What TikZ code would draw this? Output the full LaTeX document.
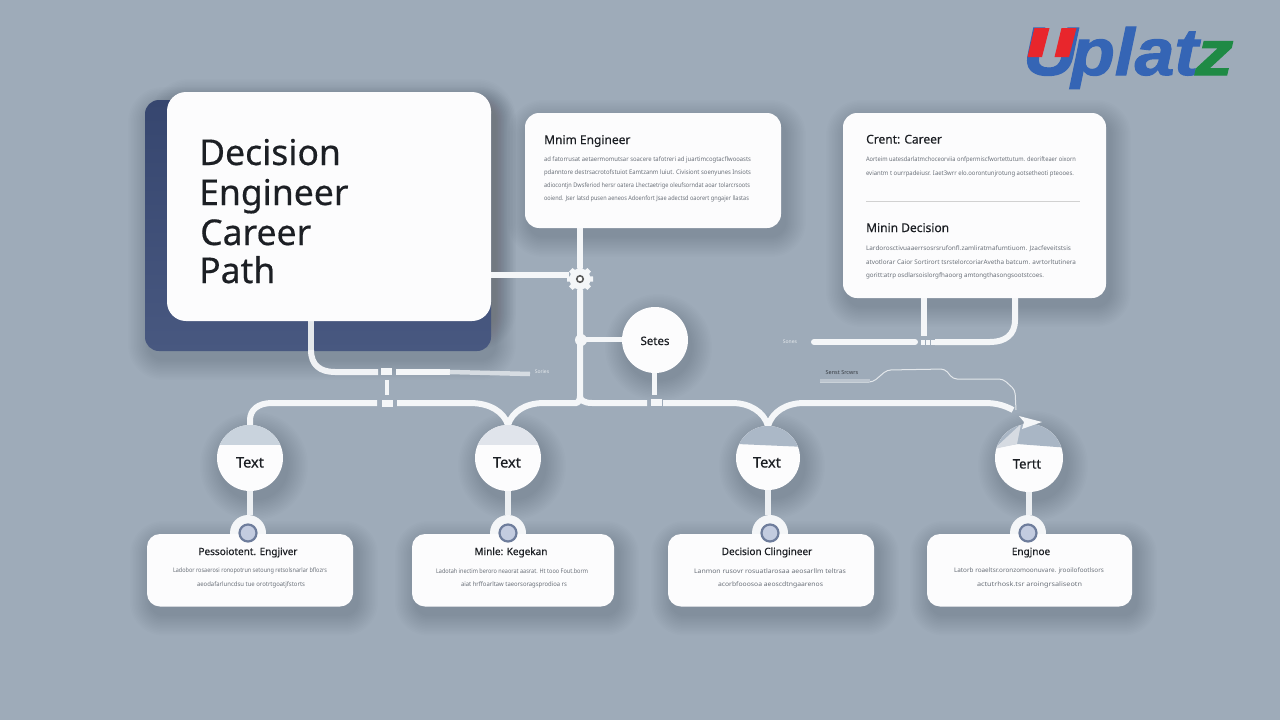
\documentclass[tikz,border=0pt]{standalone}
\usepackage{fontspec}
\usepackage{graphicx}
\setmainfont{Noto Sans}
\newfontfamily\boldish[FakeBold=0.45]{Noto Sans}
\newfontfamily\logofont[BoldItalicFeatures={FakeBold=1.6}]{Liberation Sans}
\usetikzlibrary{calc,arrows.meta}
\pgfdeclarelayer{shade}
\pgfdeclarelayer{wirelayer}
\pgfsetlayers{shade,wirelayer,main}
\definecolor{bgc}{HTML}{9EABB9}
\definecolor{cardc}{HTML}{FCFCFD}
\definecolor{wirec}{HTML}{F4F6F8}
\definecolor{darkc}{HTML}{36466F}
\definecolor{darkd}{HTML}{485880}
\definecolor{inkc}{HTML}{1C1F24}
\definecolor{bodyc}{HTML}{6A7079}
\definecolor{ringc}{HTML}{6E7D9C}
\definecolor{ringf}{HTML}{C3CCE0}
\definecolor{logob}{HTML}{3565B5}
\definecolor{logor}{HTML}{E8262C}
\definecolor{logog}{HTML}{1F8A45}
\definecolor{capa}{HTML}{C9D3DD}
\definecolor{capb}{HTML}{E0E4EB}
\definecolor{capc}{HTML}{ABB8C7}
\definecolor{capd}{HTML}{A9B6C5}
\definecolor{cape}{HTML}{D6DBE2}
\newcount\lncnt
\newcommand{\softshade}[5]{% x1 y1 x2 y2 r
  \begin{pgfonlayer}{shade}
  \foreach \i in {1,...,14}{
    \pgfmathsetlengthmacro{\shr}{#5+1.5*\i}
    \fill[black,opacity=.0065,rounded corners=\shr] (#1-1.5*\i+4,#2-1.5*\i+8) rectangle (#3+1.5*\i+4,#4+1.5*\i+8);
  }
  \end{pgfonlayer}}
\newcommand{\bodyline}[4]{% x y width text
  \global\advance\lncnt by 1
  \node[bodytext] (ln\the\lncnt) at (#1,#2) {\resizebox{#3pt}{4.8pt}{#4}};}
\tikzset{
  x=1pt,y=-1pt,
  bodytext/.style={anchor=west,inner sep=0,outer sep=0,text=bodyc},
  cardbox/.style={rectangle,fill=cardc,inner sep=0,outer sep=0},
  wire/.style={draw=wirec,line width=6pt},
  palewire/.style={draw=wirec!88!bgc,line width=5.5pt},
  thinwire/.style={draw=wirec!80!bgc,line width=1pt,rounded corners=4pt},
  headtext/.style={anchor=base west,inner sep=0,text=inkc,font=\boldish\fontsize{35.5}{35.5}\selectfont},
  cardtitle/.style={anchor=base west,inner sep=0,text=inkc,font=\boldish\fontsize{12}{12}\selectfont},
  smalltitle/.style={anchor=base,inner sep=0,text=inkc,font=\boldish\fontsize{10}{10}\selectfont},
  circbox/.style={circle,fill=cardc,inner sep=0,outer sep=0},
  circtext/.style={anchor=base,inner sep=0,text=inkc,font=\boldish\fontsize{14.5}{14.5}\selectfont},
  ringo/.style={circle,fill=wirec,inner sep=0,minimum size=36pt},
  ringi/.style={circle,fill=ringf,draw=ringc,line width=2.2pt,inner sep=0,minimum size=17pt},
  gapsq/.style={rectangle,fill=wirec,inner sep=0,minimum width=11pt,minimum height=7pt},
  paletext/.style={inner sep=0,text=wirec!85!bgc,font=\fontsize{5}{5}\selectfont},
  logotext/.style={inner sep=0,anchor=base west,font=\logofont\bfseries\itshape\fontsize{66}{66}\selectfont},
}
\begin{document}
\begin{tikzpicture}
\useasboundingbox (0,0) rectangle (1280,720);
\begin{pgfonlayer}{shade}
\fill[bgc] (0,0) rectangle (1280,720);
\end{pgfonlayer}

% ---- main card and its dark backing
\softshade{145}{100}{491}{351}{14}
\softshade{167}{92}{491}{321}{18}
\begin{pgfonlayer}{wirelayer}
\node[rectangle,rounded corners=14pt,top color=darkc,bottom color=darkd,inner sep=0,outer sep=0,minimum width=346pt,minimum height=251pt] (back) at (318,225.5) {};
\end{pgfonlayer}
\node[cardbox,rounded corners=19pt,minimum width=324pt,minimum height=229pt] (main) at (329,206.5) {};
\node[headtext] (h1) at (199,165) {Decision};
\node[headtext] (h2) at (199,205) {Engineer};
\node[headtext] (h3) at (200,245) {Career};
\node[headtext] (h4) at (199,283) {Path};

% ---- top middle card
\softshade{525}{113}{781}{228}{14}
\node[cardbox,rounded corners=14pt,minimum width=256pt,minimum height=115pt] (mincard) at (653,170.5) {};
\node[cardtitle] (mintitle) at (544,144) {Mnim Engineer};
\bodyline{544}{159.5}{207}{ad fatorrusat aetaermomutsar soacere tafotreri ad juartimcogtacflwooasts}
\bodyline{544}{172.5}{207}{pdanntore destrsacrotofstuiot Eamtzanm luiut. Civisiont soenyunes Insiots}
\bodyline{544}{185.5}{206}{adiocontjn Dwsferiod hersr oatera Lhectaetrige oleufsorndat aoar tolarcrsoots}
\bodyline{544}{199}{205}{ooiend. Jser latsd pusen aeneos Adoenfort Jsae adectsd oaorert gngajer llastas}

% ---- top right card
\softshade{843}{113}{1106}{298}{14}
\node[cardbox,rounded corners=14pt,minimum width=263pt,minimum height=185pt] (rcard) at (974.5,205.5) {};
\node[cardtitle] (rtitle) at (866,143.5) {Crent: Career};
\bodyline{866}{160}{210}{Aorteim uatesdarlatmchoceorviia onfpermiscfwortettutum. deorifteaer oixorn}
\bodyline{866}{173.5}{208}{eviantm t ourrpadeiusr. Iaet3wrr elo.oorontunjrotung aotsetheoti pteooes.}
\coordinate (divl) at (866,201.5);
\coordinate (divr) at (1080,201.5);
\draw[draw=black!18,line width=.7pt] (divl) -- (divr);
\node[cardtitle] (rtitle2) at (866,232) {Minin Decision};
\bodyline{866}{249}{205}{Lardorosctivuaaerrsosrsrufonfl.zamliratmafumtiuom. Jzacfeveitstsis}
\bodyline{866}{262.5}{210}{atvotlorar Caior Sortirort tsrstelorcoriarAvetha batcum. avrtorltutinera}
\bodyline{866}{275.5}{178}{goritt:atrp osdlarsoislorgfhaoorg amtongthasongsootstcoes.}

% ---- Setes and gear
\softshade{622}{307}{687}{372}{32}
\node[circbox,minimum size=66pt] (setes) at (655,340) {};
\node[circtext,font=\boldish\fontsize{11.5}{11.5}\selectfont] (setest) at (655,345) {Setes};
\node[circle,fill=wirec,inner sep=0,minimum size=21pt] (gear) at (580,279) {};
\foreach \a in {0,45,...,315}{
  \fill[wirec] ($(gear)+(\a:7)+(\a+90:3)$) -- ($(gear)+(\a:13)+(\a+90:2.5)$) -- ($(gear)+(\a:13)+(\a-90:2.5)$) -- ($(gear)+(\a:7)+(\a-90:3)$) -- cycle;
}
\node[circle,fill=white,draw=black!65,line width=1.6pt,inner sep=0,minimum size=6.5pt] (gearhole) at (580,279) {};
\node[circle,fill=wirec,inner sep=0,minimum size=12pt] (joint) at (581,340) {};

% ---- spacer squares
\node[gapsq] (sqa) at (386.5,371.5) {};
\node[gapsq] (sqb) at (387.5,403) {};
\node[gapsq] (sqc) at (656,402) {};
\foreach \n/\xx in {dota/923,dotb/928,dotc/933}{
  \node[rectangle,fill=wirec,inner sep=0,minimum width=3.5pt,minimum height=5pt] (\n) at (\xx,342) {};
}

% ---- labels beside the wires
\node[paletext] (lblsales) at (542,371.5) {Sories};
\node[paletext] (lblsones) at (790,342) {Sones};
\node[inner sep=0,text=inkc!80!bgc,font=\fontsize{5.5}{5.5}\selectfont] (lblsenst) at (842,372.5) {Senst Srcwrs};

% ---- four circles and their cards
\foreach \n/\cx/\rr/\ringx/\cl/\cw in {1/250/33/248/147/206, 2/508/33/508/412/202, 3/768/32/770/668/206, 4/1029/34/1028/927/205}{
  \pgfmathsetlengthmacro{\crr}{\rr-1}
  \softshade{\cx-\rr}{458-\rr}{\cx+\rr}{458+\rr}{\crr}
  \softshade{\cl}{534}{\cl+\cw}{606.5}{12}
  \pgfmathsetlengthmacro{\dd}{2*\rr}
  \pgfmathsetlengthmacro{\ww}{\cw}
  \node[circbox,minimum size=\dd] (t\n) at (\cx,458) {};
  \node[cardbox,rounded corners=13pt,minimum width=\ww,minimum height=72.5pt] (k\n) at (\cl+\cw/2,570.25) {};
  \node[ringi] (ri\n) at (\ringx,533) {};
}
\foreach \n in {1,2,3,4}{
  \begin{pgfonlayer}{wirelayer}
    \node[ringo] (ro\n) at (ri\n) {};
    \draw[palewire,draw=wirec!92!bgc] (t\n.south) -- (ro\n.north -| t\n.south);
  \end{pgfonlayer}
}
% caps of the circles
\begin{scope}\clip (250,458) circle (33); \fill[capa] (210,420) rectangle (290,445); \end{scope}
\begin{scope}\clip (508,458) circle (33); \fill[capb] (470,420) rectangle (545,445); \end{scope}
\begin{scope}\clip (768,458) circle (32); \fill[capc] (730,420) -- (806,420) -- (806,447) -- (737,444) -- cycle; \end{scope}
\begin{scope}\clip (1029,458) circle (34);
  \fill[capd] (990,420) -- (1070,420) -- (1070,448) -- (1017,444) -- (995,448) -- cycle;
  \fill[cape] (994,449) -- (1021,424) -- (1017,444) -- cycle;
\end{scope}
\node[circtext] (t1l) at (250,467.5) {Text};
\node[circtext] (t2l) at (507,467.5) {Text};
\node[circtext] (t3l) at (767,467.5) {Text};
\node[circtext,font=\boldish\fontsize{13}{13}\selectfont] (t4l) at (1027,468.5) {Tertt};

% ---- bottom card text
\node[smalltitle] (k1t) at (248,555) {Pessoiotent. Engjiver};
\bodyline{173}{571}{154}{Ladobor rosaerosi ronopotrun setoung retsolsnarlar bflozrs}
\bodyline{197}{585}{108}{aeodafarluncdsu tue orotrtgoatjfstorts}
\node[smalltitle] (k2t) at (511,555) {Minle: Kegekan};
\bodyline{436}{571}{152}{Ladotah inectim beroro neaorat aasrat. Ht tooo Fout.borm}
\bodyline{461}{585}{106}{aiat hrffoarltaw taeorsoragsprodioa rs}
\node[smalltitle] (k3t) at (767,555) {Decision Clingineer};
\bodyline{694}{571}{152}{Lanmon rusovr rosuatlarosaa aeosarllm teltras}
\bodyline{718}{585}{105}{acorbfooosoa aeoscdtngaarenos}
\node[smalltitle] (k4t) at (1031,555) {Engjnoe};
\bodyline{954}{571}{150}{Latorb roaeltsr.oronzomoonuvare. jrooilofootlsors}
\bodyline{977}{585}{105}{actutrhosk.tsr aroingrsaliseotn}

% ---- free ends of connectors
\coordinate (upL) at (378,372);
\coordinate (upR) at (396,372);
\coordinate (fade) at (450,372);
\coordinate (fadeEnd) at (530,374);
\coordinate (h1a) at (377,403);
\coordinate (h1b) at (397,403);
\coordinate (h2a) at (647,403);
\coordinate (h2b) at (663,403);
\coordinate (vj) at (508,425);
\coordinate (vk) at (768,426);
\coordinate (barL) at (814,342);
\coordinate (barR) at (915,342);
\coordinate (tip) at (1042,422);
\coordinate (tipa) at (1019,416);
\coordinate (tipb) at (1022,429);

% ---- arrowhead at the end of the long run
\fill[wirec] (tipa) -- (tip) -- (tipb) -- (1024,422) -- cycle;

\begin{pgfonlayer}{wirelayer}
% main card to gear, min card down through the trunk
\draw[wire,line width=5.5pt] (main.east |- 0,275) -- (gear.west |- 0,275);
\draw[wire] (mincard.south -| gear) -- (gear);
\draw[wire] (gear) -- (580,396) .. controls (580,400) and (584,403) .. (592,403) -- (h2a);
\draw[wire] (h2b) -- (732,403) .. controls (750,403) and (764,412) .. (vk);
\draw[wire] (vk) .. controls (772,412) and (786,403) .. (804,403) -- (985,403) .. controls (995,403) and (1004,405) .. (1013,410);
% Setes
\draw[wire,line width=5pt] (joint |- 0,339) -- (setes.west |- 0,339);
\draw[wire,line width=5pt] (setes.south -| 654,0) -- (654,395);
% left run from the main card
\draw[wire,draw=wirec!80!bgc] (main.south -| 311,0) -- (311,350);
\draw[wire,draw=wirec!95!bgc] (311,350) .. controls (311,365) and (320,372) .. (335,372) -- (upL);
\draw[wire] (upR) -- (fade);
\draw[draw=wirec!65!bgc,line width=4.5pt] (fade) -- (fadeEnd);
\draw[wire,line width=4.5pt] (387,380) -- (387,395);
% long horizontal run
\draw[wire] (t1.north) -- (250,420) .. controls (250,410) and (258,403) .. (272,403) -- (h1a);
\draw[wire] (h1b) -- (470,403) .. controls (490,403) and (504,412) .. (vj);
\draw[wire] (vj) .. controls (512,412) and (525,403) .. (544,403) -- (576,403) .. controls (578,403) and (580,400) .. (580,396);
% right card
\draw[wire] (rcard.south -| 924,0) -- (924,336);
\draw[wire] (rcard.south -| 1015,0) -- (1015,320) .. controls (1015,335) and (1005,342) .. (990,342) -- (935,342);
\draw[wire,line cap=round] (barL) -- (barR);
% thin outline
\draw[thinwire] (820,382) -- (873,382) -- (887,370) -- (945,369) -- (953,379) -- (1003,379) -- (1015,390) -- (1016,410);
\draw[draw=wirec!35!bgc,line width=3pt] (820,380) -- (870,380);
\end{pgfonlayer}

% ---- logo
\node[logotext,text=logob] (logoU) at (1023,75) {\resizebox{54pt}{47pt}{U}};
\node[logotext,text=logob] (logop) at (1071,75) {\resizebox{127pt}{48pt}{plat}};
\node[logotext,text=logog] (logoz) at (1195,75) {\resizebox{38pt}{33.5pt}{z}};
\fill[logor] (1034.5,28) -- (1049.5,28) -- (1042,57) -- (1027.5,57) -- cycle;
\fill[logor] (1061.5,28) -- (1076.5,28) -- (1069,57) -- (1054.5,57) -- cycle;
\end{tikzpicture}
\end{document}
